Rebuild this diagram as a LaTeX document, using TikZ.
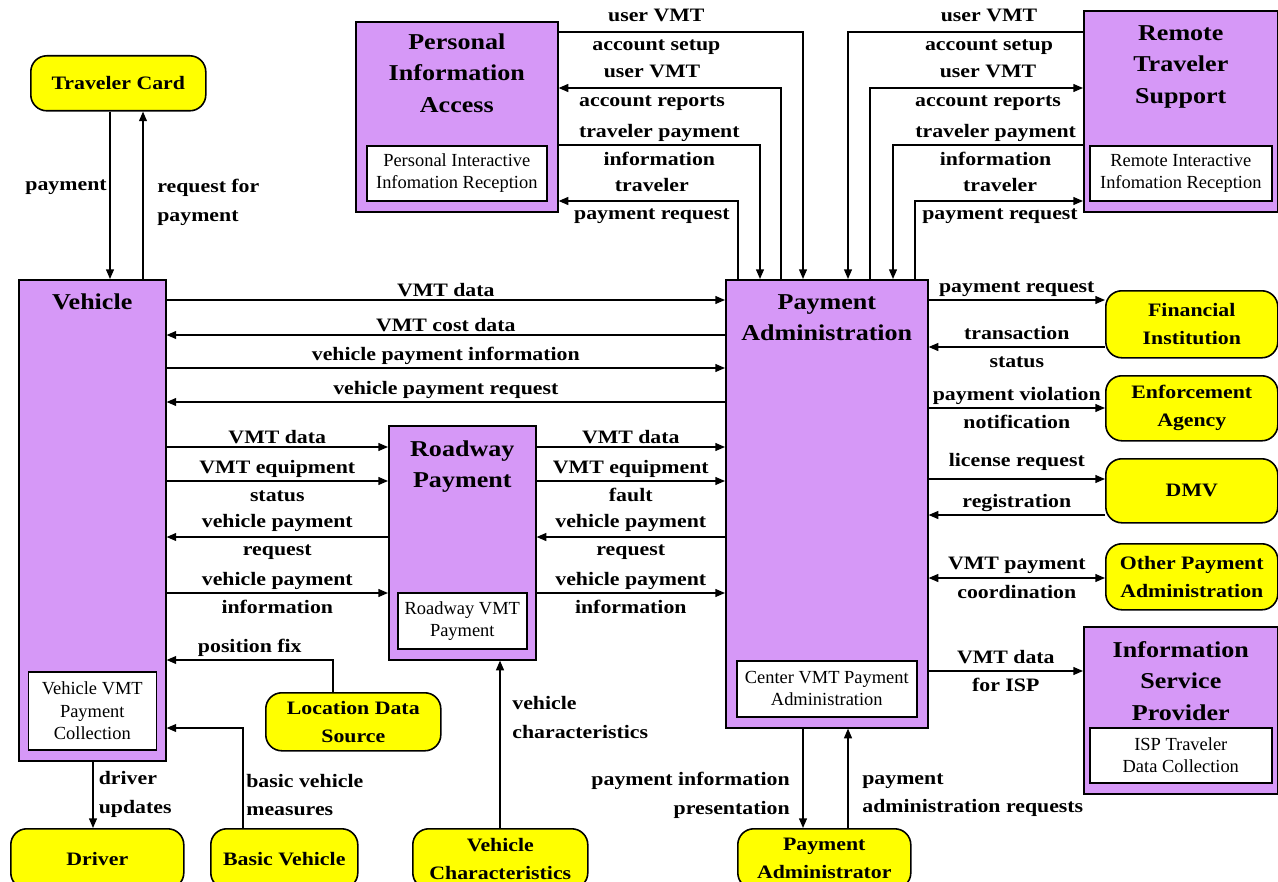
\documentclass[tikz,border=0pt]{standalone}
\usepackage{fontspec}
\setmainfont{Liberation Serif}
\newfontfamily\diafont{Liberation Serif}[FakeStretch=1.15]
\usetikzlibrary{arrows.meta,positioning}

\definecolor{sysviolet}{RGB}{214,152,247}
\definecolor{termyellow}{RGB}{255,255,0}
\newcommand\pxu{0.02cm}

\tikzset{
  sysbox/.style={draw, fill=sysviolet, line width=0.9pt, anchor=north west, inner sep=0pt},
  systitle/.style={align=center, inner sep=0pt, font=\diafont\bfseries\fontsize{12.9}{18}\selectfont},
  pkgbox/.style={draw, fill=white, line width=0.9pt, align=center, inner sep=0pt, font=\fontsize{10.5}{12.7}\selectfont},
  termbox/.style={draw, fill=termyellow, line width=0.9pt, rounded corners=0.32cm, anchor=north west,
    align=center, inner sep=0pt, font=\diafont\bfseries\fontsize{10.8}{15.9}\selectfont},
  lbl/.style={inner sep=1.5pt, align=center, font=\diafont\bfseries\fontsize{10.8}{16.4}\selectfont},
  flow/.style={line width=0.8pt, -{Triangle[length=5.5pt,width=4.5pt]}},
  dflow/.style={line width=0.8pt, {Triangle[length=5.5pt,width=4.5pt]}-{Triangle[length=5.5pt,width=4.5pt]}}
}

\begin{document}
\begin{tikzpicture}[x=\pxu, y=-\pxu]
  \useasboundingbox (0,0) rectangle (1278,882);

  % subsystems
  \node[sysbox, minimum width=147*\pxu, minimum height=481*\pxu] (veh) at (18,279) {};
  \node[systitle, below=0.28cm of veh.north] (veh title) {Vehicle};
  \node[pkgbox, minimum width=128*\pxu, minimum height=78*\pxu, above=0.22cm of veh.south] (veh pkg) {Vehicle VMT\\Payment\\Collection};

  \node[sysbox, minimum width=147*\pxu, minimum height=234*\pxu] (rp) at (388,425) {};
  \node[systitle, below=0.3cm of rp.north] (rp title) {Roadway\\Payment};
  \node[pkgbox, minimum width=129*\pxu, minimum height=56*\pxu, above=0.22cm of rp.south] (rp pkg) {Roadway VMT\\Payment};

  \node[sysbox, minimum width=202*\pxu, minimum height=448*\pxu] (pa) at (725,279) {};
  \node[systitle, below=0.3cm of pa.north] (pa title) {Payment\\Administration};
  \node[pkgbox, minimum width=180*\pxu, minimum height=56*\pxu, above=0.22cm of pa.south] (pa pkg) {Center VMT Payment\\Administration};

  \node[sysbox, minimum width=202*\pxu, minimum height=190*\pxu] (pia) at (355,21) {};
  \node[systitle, below=0.24cm of pia.north] (pia title) {Personal\\Information\\Access};
  \node[pkgbox, minimum width=180*\pxu, minimum height=55*\pxu, above=0.22cm of pia.south] (pia pkg) {Personal Interactive\\Infomation Reception};

  \node[sysbox, minimum width=194*\pxu, minimum height=201*\pxu] (rts) at (1083,10) {};
  \node[systitle, below=0.3cm of rts.north] (rts title) {Remote\\Traveler\\Support};
  \node[pkgbox, minimum width=182*\pxu, minimum height=55*\pxu, above=0.22cm of rts.south] (rts pkg) {Remote Interactive\\Infomation Reception};

  \node[sysbox, minimum width=194*\pxu, minimum height=167*\pxu] (isp) at (1083,626) {};
  \node[systitle, below=0.3cm of isp.north] (isp title) {Information\\Service\\Provider};
  \node[pkgbox, minimum width=182*\pxu, minimum height=55*\pxu, above=0.22cm of isp.south] (isp pkg) {ISP Traveler\\Data Collection};

  % terminators
  \node[termbox, minimum width=175*\pxu, minimum height=55*\pxu] (tc) at (30,55) {Traveler Card};
  \node[termbox, minimum width=172*\pxu, minimum height=67*\pxu] (fin) at (1105,290) {Financial\\Institution};
  \node[termbox, minimum width=172*\pxu, minimum height=65*\pxu] (enf) at (1105,375) {Enforcement\\Agency};
  \node[termbox, minimum width=172*\pxu, minimum height=64*\pxu] (dmv) at (1105,458) {DMV};
  \node[termbox, minimum width=172*\pxu, minimum height=66*\pxu] (opa) at (1105,543) {Other Payment\\Administration};
  \node[termbox, minimum width=175*\pxu, minimum height=58*\pxu] (lds) at (265,692) {Location Data\\Source};
  \node[termbox, minimum width=173*\pxu, minimum height=60*\pxu] (drv) at (10,828) {Driver};
  \node[termbox, minimum width=147*\pxu, minimum height=60*\pxu] (bv) at (210,828) {Basic Vehicle};
  \node[termbox, minimum width=175*\pxu, minimum height=60*\pxu] (vc) at (412,828) {Vehicle\\Characteristics};
  \node[termbox, minimum width=173*\pxu, minimum height=60*\pxu] (padm) at (737,828) {Payment\\Administrator};

  % traveler card
  \draw[flow] (tc.south -| 110,0) -- node[lbl, left, pos=0.45] {payment} (veh.north -| 110,0);
  \draw[flow] (veh.north -| 143,0) -- node[lbl, right, align=left, pos=0.46, xshift=0.22cm] {request for\\payment} (tc.south -| 143,0);

  % personal information access
  \draw[flow] (pia.east |- 0,32) -| node[lbl, pos=0.2] {user VMT\\account setup} (pa.north -| 803,0);
  \draw[flow] (pa.north -| 781,0) |- node[lbl, pos=0.79] {user VMT\\account reports} (pia.east |- 0,88);
  \draw[flow] (pia.east |- 0,145) -| node[lbl, pos=0.25] {traveler payment\\information} (pa.north -| 760,0);
  \draw[flow] (pa.north -| 738,0) |- node[lbl, pos=0.74] {traveler\\payment request} (pia.east |- 0,201);

  % remote traveler support
  \draw[flow] (rts.west |- 0,32) -| node[lbl, pos=0.2] {user VMT\\account setup} (pa.north -| 848,0);
  \draw[flow] (pa.north -| 870,0) |- node[lbl, pos=0.777] {user VMT\\account reports} (rts.west |- 0,88);
  \draw[flow] (rts.west |- 0,145) -| node[lbl, pos=0.23] {traveler payment\\information} (pa.north -| 893,0);
  \draw[flow] (pa.north -| 915,0) |- node[lbl, pos=0.753] {traveler\\payment request} (rts.west |- 0,201);

  % vehicle <-> payment administration
  \draw[flow] (veh.east |- 0,300) -- node[lbl, above] {VMT data} (pa.west |- 0,300);
  \draw[flow] (pa.west |- 0,335) -- node[lbl, above] {VMT cost data} (veh.east |- 0,335);
  \draw[flow] (veh.east |- 0,368) -- node[lbl, above] {vehicle payment information} (pa.west |- 0,368);
  \draw[flow] (pa.west |- 0,402) -- node[lbl, above] {vehicle payment request} (veh.east |- 0,402);

  % vehicle <-> roadway payment
  \draw[flow] (veh.east |- 0,447) -- node[lbl, above] {VMT data} (rp.west |- 0,447);
  \draw[flow] (veh.east |- 0,481) -- node[lbl] {VMT equipment\\status} (rp.west |- 0,481);
  \draw[flow] (rp.west |- 0,537) -- node[lbl] {vehicle payment\\request} (veh.east |- 0,537);
  \draw[flow] (veh.east |- 0,593) -- node[lbl] {vehicle payment\\information} (rp.west |- 0,593);

  % roadway payment <-> payment administration
  \draw[flow] (rp.east |- 0,447) -- node[lbl, above] {VMT data} (pa.west |- 0,447);
  \draw[flow] (rp.east |- 0,481) -- node[lbl] {VMT equipment\\fault} (pa.west |- 0,481);
  \draw[flow] (pa.west |- 0,537) -- node[lbl] {vehicle payment\\request} (rp.east |- 0,537);
  \draw[flow] (rp.east |- 0,593) -- node[lbl] {vehicle payment\\information} (pa.west |- 0,593);

  % payment administration <-> right side
  \draw[flow] (pa.east |- 0,300) -- node[lbl, above] {payment request} (fin.west |- 0,300);
  \draw[flow] (fin.west |- 0,347) -- node[lbl] {transaction\\status} (pa.east |- 0,347);
  \draw[flow] (pa.east |- 0,408) -- node[lbl] {payment violation\\notification} (enf.west |- 0,408);
  \draw[flow] (pa.east |- 0,479) -- node[lbl, above=3pt] {license request} (dmv.west |- 0,479);
  \draw[flow] (dmv.west |- 0,515) -- node[lbl, above] {registration} (pa.east |- 0,515);
  \draw[dflow] (pa.east |- 0,578) -- node[lbl] {VMT payment\\coordination} (opa.west |- 0,578);
  \draw[flow] (pa.east |- 0,671) -- node[lbl] {VMT data\\for ISP} (isp.west |- 0,671);

  % bottom
  \draw[flow] (lds.north -| 333,0) |- node[lbl, above, pos=0.75] {position fix} (veh.east |- 0,660);
  \draw[flow] (bv.north -| 243,0) |- node[lbl, right, align=left, pos=0.165] {basic vehicle\\measures} (veh.east |- 0,728);
  \draw[flow] (veh.south -| 93,0) -- node[lbl, right, align=left, xshift=0.05cm] {driver\\updates} (drv.north -| 93,0);
  \draw[flow] (vc.north -| 500,0) -- node[lbl, right, align=left, pos=0.66, xshift=0.18cm] {vehicle\\characteristics} (rp.south -| 500,0);
  \draw[flow] (pa.south -| 803,0) -- node[lbl, left, align=right, pos=0.67, xshift=-0.2cm] {payment information\\presentation} (padm.north -| 803,0);
  \draw[flow] (padm.north -| 848,0) -- node[lbl, right, align=left, pos=0.33, xshift=0.22cm] {payment\\administration requests} (pa.south -| 848,0);
\end{tikzpicture}
\end{document}
